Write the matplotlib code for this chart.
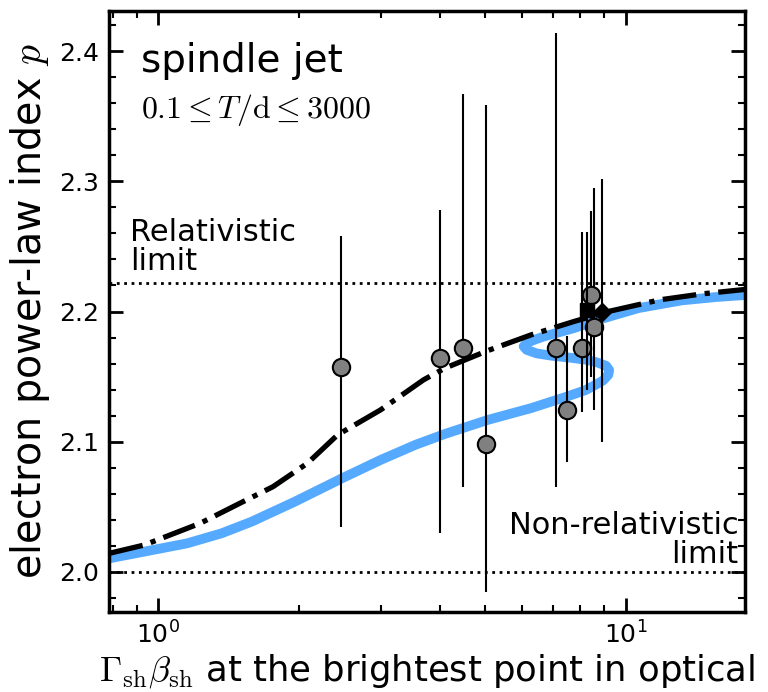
import numpy as np
import matplotlib
matplotlib.use("Agg")
import matplotlib.pyplot as plt
from matplotlib.ticker import MultipleLocator, LogLocator, NullFormatter

plt.rcParams['mathtext.fontset'] = 'cm'
plt.rcParams['font.family'] = 'DejaVu Sans'

# modelo de jet "spindle": curva completa (azul) y aproximacion (punto-raya)
model_x = [0.788, 0.934, 1.154, 1.367, 1.586, 1.960, 2.474, 2.992, 3.55, 4.108, 5.077,
           6.273, 7.430, 8.20, 8.616, 8.95, 9.181, 9.22, 9.086, 8.70, 8.258, 7.60,
           6.974, 6.45, 6.141, 6.05, 6.141, 6.35, 6.686, 7.20, 7.747, 8.988,
           10.65, 13.16, 15.59, 18.26, 20.0]
model_p = [2.0103, 2.0154, 2.0218, 2.0295, 2.0385, 2.0538, 2.0718, 2.0859, 2.0975, 2.1059, 2.1167,
           2.1257, 2.1342, 2.1395, 2.1436, 2.1470, 2.1513, 2.1550, 2.1582, 2.1608, 2.1628, 2.1645,
           2.1659, 2.1678, 2.1705, 2.1732, 2.1757, 2.1780, 2.1808, 2.1840, 2.1872, 2.1949,
           2.2026, 2.2085, 2.2111, 2.2128, 2.2135]

approx_x = [0.788, 0.934, 1.230, 1.519, 1.762, 2.087, 2.421, 2.992, 3.697, 4.108,
            5.077, 6.273, 7.747, 9.18, 11.84, 14.62, 18.26, 20.0]
approx_p = [2.0142, 2.0205, 2.0372, 2.0538, 2.0654, 2.0834, 2.1052, 2.1244, 2.1475, 2.1565,
            2.170, 2.182, 2.1923, 2.200, 2.209, 2.2136, 2.2172, 2.2180]

# observaciones con barras de error
obs_x = [2.46, 4.01, 4.49, 5.03, 7.09, 7.48, 8.06, 8.42, 8.55]
obs_p = [2.157, 2.164, 2.172, 2.098, 2.172, 2.124, 2.172, 2.213, 2.188]
obs_hi = [2.258, 2.278, 2.367, 2.359, 2.414, 2.181, 2.261, 2.277, 2.295]
obs_lo = [2.034, 2.030, 2.065, 1.984, 2.065, 2.084, 2.123, 2.150, 2.124]

sq_x, sq_p, sq_hi, sq_lo = 8.26, 2.201, 2.261, 2.140
dm_x, dm_p, dm_hi, dm_lo = 8.89, 2.200, 2.302, 2.100

p_rel = 20.0 / 9.0
p_nonrel = 2.0

fig = plt.figure(figsize=(7.68, 6.92), dpi=100)
ax = fig.add_axes([109/768, 1 - 612/692, (745 - 109)/768, (612 - 11)/692])

ax.axhline(p_rel, color='k', ls=':', lw=2)
ax.axhline(p_nonrel, color='k', ls=':', lw=2)

ax.plot(model_x, model_p, color='#55aaff', lw=7, solid_capstyle='round',
        solid_joinstyle='round', zorder=2)
ax.plot(approx_x, approx_p, color='k', ls='-.', lw=3.8, zorder=3)

obs_p = np.array(obs_p)
yerr = [obs_p - np.array(obs_lo), np.array(obs_hi) - obs_p]
ax.errorbar(obs_x, obs_p, yerr=yerr, fmt='o', ms=12.5, mfc='#808080', mec='k',
            mew=1.5, ecolor='k', elinewidth=1.5, capsize=0, zorder=4)
ax.errorbar([sq_x], [sq_p], yerr=[[sq_p - sq_lo], [sq_hi - sq_p]], fmt='s', ms=10,
            mfc='k', mec='k', ecolor='k', elinewidth=1.5, capsize=0, zorder=5)
ax.errorbar([dm_x], [dm_p], yerr=[[dm_p - dm_lo], [dm_hi - dm_p]], fmt='D', ms=9,
            mfc='k', mec='k', ecolor='k', elinewidth=1.5, capsize=0, zorder=5)

ax.set_xscale('log')
ax.set_xlim(0.785, 18.0)
ax.set_ylim(1.969, 2.431)
ax.yaxis.set_major_locator(MultipleLocator(0.1))
ax.yaxis.set_minor_locator(MultipleLocator(0.02))
ax.yaxis.set_major_formatter(matplotlib.ticker.FormatStrFormatter('%.1f'))
ax.xaxis.set_minor_locator(LogLocator(base=10, subs=np.arange(2, 10)))
ax.xaxis.set_minor_formatter(NullFormatter())

ax.tick_params(which='both', direction='in', top=True, right=True, labelsize=18)
ax.tick_params(which='major', length=10, width=2, pad=7)
ax.tick_params(which='minor', length=5, width=1.5)
for sp in ax.spines.values():
    sp.set_linewidth(2.5)

ax.set_ylabel(r'electron power-law index $p$', fontsize=28.5, labelpad=5)
ax.set_xlabel(r'$\Gamma_{\rm sh}\beta_{\rm sh}$ at the brightest point in optical',
              fontsize=25.5, labelpad=2)

ax.text(0.05, 0.899, 'spindle jet', transform=ax.transAxes, fontsize=28,
        va='baseline', ha='left')
ax.text(0.05, 0.822, r'$0.1 \leq T/{\rm d} \leq 3000$', transform=ax.transAxes,
        fontsize=23, va='baseline', ha='left')
ax.text(0.033, 0.656, 'Relativistic\nlimit', transform=ax.transAxes, fontsize=22,
        va='top', ha='left', linespacing=1.0)
ax.text(0.99, 0.072, 'Non-relativistic\nlimit', transform=ax.transAxes, fontsize=22,
        va='bottom', ha='right', multialignment='right', linespacing=1.0)

fig.savefig('out.png', dpi=100)
